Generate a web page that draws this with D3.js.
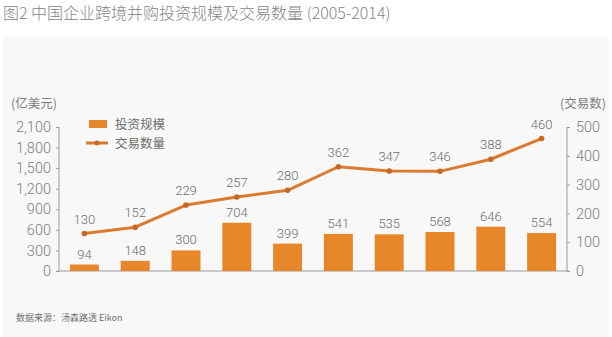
<!DOCTYPE html>
<html>
<head>
<meta charset="utf-8">
<script src="https://cdn.jsdelivr.net/npm/d3@7"></script>
<style>
  html, body { margin: 0; padding: 0; background: #ffffff; }
  svg { display: block; }
  text { font-family: Roboto, "Noto Sans CJK SC", sans-serif; }
  .cjk { font-family: "Noto Sans CJK SC", Roboto, sans-serif; }
</style>
</head>
<body>
<svg id="chart" width="612" height="337"></svg>
<script>
// Chinese outbound M&A: deal value (100M USD) and deal count, 2005-2014
const years = ["2005","2006","2007","2008","2009","2010","2011","2012","2013","2014"];
const investValue = [94, 148, 300, 704, 399, 541, 535, 568, 646, 554];
const dealCount = [130, 152, 229, 257, 280, 362, 347, 346, 388, 460];
const leftTicks = [0, 300, 600, 900, 1200, 1500, 1800, 2100];
const rightTicks = [0, 100, 200, 300, 400, 500];

const barColor = "#e8872a";
const lineColor = "#dc7a30";
const textColor = "#7d7d7d";
const axisColor = "#9a9a9a";

const svg = d3.select("#chart");

// panel background
svg.append("rect")
  .attr("x", 3).attr("y", 37).attr("width", 606).attr("height", 300)
  .attr("fill", "#f8f8f8");

// title
svg.append("text")
  .attr("class", "cjk")
  .attr("x", 3).attr("y", 19)
  .attr("font-size", 16).attr("font-weight", 300).attr("fill", "#858585")
  .text("图2 中国企业跨境并购投资规模及交易数量 (2005-2014)");

const x = d3.scaleBand().domain(years).range([59, 567]).paddingInner(0.43).paddingOuter(0.215);
const yL = d3.scaleLinear().domain([0, 2100]).range([271, 127]);
const yR = d3.scaleLinear().domain([0, 500]).range([271, 127]);

// left axis
const gL = svg.append("g").attr("transform", "translate(59,0)")
  .call(d3.axisLeft(yL).tickValues(leftTicks).tickSize(3).tickPadding(5)
        .tickFormat(d3.format(",")));
// right axis
const gR = svg.append("g").attr("transform", "translate(567,0)")
  .call(d3.axisRight(yR).tickValues(rightTicks).tickSize(3).tickPadding(6));
[gL, gR].forEach(g => {
  g.select(".domain").attr("stroke", axisColor).attr("d", "M0,127V271");
  g.selectAll(".tick line").attr("stroke", axisColor);
  g.selectAll(".tick text").attr("fill", textColor).attr("font-size", 14.5)
    .attr("font-family", "Roboto, sans-serif").attr("font-weight", 300);
});

// baseline
svg.append("line")
  .attr("x1", 57).attr("x2", 569).attr("y1", yL(0)).attr("y2", yL(0))
  .attr("stroke", axisColor).attr("stroke-width", 1.2);

// axis unit labels
svg.append("text").attr("class", "cjk")
  .attr("x", 11).attr("y", 108).attr("font-size", 12.5).attr("fill", textColor)
  .text("(亿美元)");
svg.append("text").attr("class", "cjk")
  .attr("x", 560).attr("y", 108).attr("font-size", 12.5).attr("fill", textColor)
  .text("(交易数)");

// bars
svg.append("g").selectAll("rect").data(years).join("rect")
  .attr("x", d => x(d))
  .attr("width", x.bandwidth())
  .attr("y", (d, i) => yL(investValue[i]))
  .attr("height", (d, i) => yL(0) - yL(investValue[i]))
  .attr("fill", barColor);

// bar value labels
svg.append("g").selectAll("text").data(years).join("text")
  .attr("x", d => x(d) + x.bandwidth() / 2)
  .attr("y", (d, i) => yL(investValue[i]) - 6)
  .attr("text-anchor", "middle")
  .attr("font-size", 13).attr("font-weight", 300).attr("fill", "#6e6e6e")
  .text((d, i) => investValue[i]);

// deal count line
const line = d3.line()
  .x(d => x(d.year) + x.bandwidth() / 2)
  .y(d => yR(d.v));
const lineData = years.map((y, i) => ({ year: y, v: dealCount[i] }));
svg.append("path").datum(lineData)
  .attr("d", line).attr("fill", "none")
  .attr("stroke", lineColor).attr("stroke-width", 3).attr("stroke-linejoin", "round");
svg.append("g").selectAll("circle").data(lineData).join("circle")
  .attr("cx", d => x(d.year) + x.bandwidth() / 2)
  .attr("cy", d => yR(d.v))
  .attr("r", 2.8).attr("fill", "#c96a24");

// line value labels
svg.append("g").selectAll("text").data(lineData).join("text")
  .attr("x", d => x(d.year) + x.bandwidth() / 2)
  .attr("y", d => yR(d.v) - 10)
  .attr("text-anchor", "middle")
  .attr("font-size", 13).attr("font-weight", 300).attr("fill", "#6e6e6e")
  .text(d => d.v);

// legend
const lg = svg.append("g");
lg.append("rect").attr("x", 89).attr("y", 120).attr("width", 18).attr("height", 8).attr("fill", barColor);
lg.append("text").attr("class", "cjk").attr("x", 115).attr("y", 129)
  .attr("font-size", 12.5).attr("fill", "#6e6e6e").text("投资规模");
lg.append("line").attr("x1", 86).attr("x2", 108).attr("y1", 143).attr("y2", 143)
  .attr("stroke", lineColor).attr("stroke-width", 3);
lg.append("circle").attr("cx", 97).attr("cy", 143).attr("r", 2.5).attr("fill", "#c96a24");
lg.append("text").attr("class", "cjk").attr("x", 115).attr("y", 147.5)
  .attr("font-size", 12.5).attr("fill", "#6e6e6e").text("交易数量");

// source note
svg.append("text").attr("class", "cjk")
  .attr("x", 16).attr("y", 321).attr("font-size", 9).attr("fill", "#707070")
  .text("数据来源：汤森路透 Eikon");
</script>
</body>
</html>
